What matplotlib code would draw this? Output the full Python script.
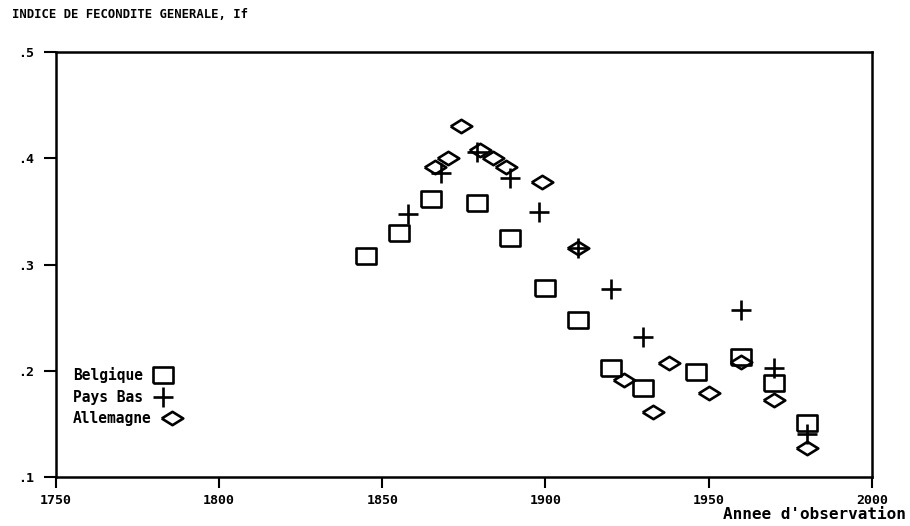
import matplotlib
matplotlib.use("Agg")
import matplotlib.pyplot as plt
import numpy as np

title = "INDICE DE FECONDITE GENERALE, If"
xlabel = "Annee d'observation"

bel_years = [1845, 1855, 1865, 1879, 1889, 1900, 1910, 1920, 1930, 1946, 1960, 1970, 1980]
bel_vals = [0.308, 0.330, 0.362, 0.358, 0.325, 0.278, 0.248, 0.203, 0.184, 0.199, 0.213, 0.188, 0.151]

nl_years = [1858, 1868, 1879, 1889, 1898, 1910, 1920, 1930, 1960, 1970, 1980]
nl_vals = [0.348, 0.386, 0.406, 0.381, 0.349, 0.316, 0.277, 0.232, 0.257, 0.203, 0.140]

de_years = [1866, 1870, 1874, 1880, 1884, 1888, 1899, 1910, 1924, 1933, 1938, 1950, 1960, 1970, 1980]
de_vals = [0.392, 0.400, 0.430, 0.408, 0.400, 0.392, 0.378, 0.316, 0.191, 0.161, 0.207, 0.179, 0.208, 0.172, 0.127]

xticks = [1750, 1800, 1850, 1900, 1950, 2000]
yticks = [0.1, 0.2, 0.3, 0.4, 0.5]
ytick_labels = [".1", ".2", ".3", ".4", ".5"]

rect = [(-1, -0.75), (1, -0.75), (1, 0.75), (-1, 0.75), (-1, -0.75)]
diamond = [(-1, 0), (0, 0.62), (1, 0), (0, -0.62), (-1, 0)]

fig = plt.figure(figsize=(9.1, 5.26), dpi=100)
ax = fig.add_axes([0.0615, 0.0932, 0.8965, 0.8078])

mono = "DejaVu Sans Mono"
tickfont = dict(family=mono, weight="bold", size=9.5)

ax.plot(bel_years, bel_vals, linestyle="none", marker=rect, markersize=14.5,
        markerfacecolor="none", markeredgecolor="black", markeredgewidth=1.9, label="Belgique")
ax.plot(nl_years, nl_vals, linestyle="none", marker="+", markersize=15,
        markeredgecolor="black", markeredgewidth=1.9, label="Pays Bas")
ax.plot(de_years, de_vals, linestyle="none", marker=diamond, markersize=15.5,
        markerfacecolor="none", markeredgecolor="black", markeredgewidth=1.9, label="Allemagne")

ax.set_xlim(1750, 2000)
ax.set_ylim(0.1, 0.5)
ax.set_xticks(xticks)
ax.set_xticklabels([str(t) for t in xticks], fontdict=tickfont)
ax.set_yticks(yticks)
ax.set_yticklabels(ytick_labels, fontdict=tickfont)
ax.tick_params(axis="y", direction="out", length=9, width=1.5, pad=7)
ax.tick_params(axis="x", direction="out", length=8, width=1.5, pad=4)
for s in ax.spines.values():
    s.set_linewidth(1.8)

fig.text(0.013, 0.972, title, ha="left", va="center", family=mono, weight="bold", size=8.8)
fig.text(0.995, 0.022, xlabel, ha="right", va="center", family=mono,
         weight="bold", size=11.5)

leg = ax.legend(loc="upper left", bbox_to_anchor=(0.021, 0.258), frameon=False,
                markerfirst=False, prop=dict(family=mono, weight="bold", size=10.5),
                handlelength=1.5, labelspacing=0.45, handletextpad=0.6, borderaxespad=0,
                borderpad=0)
try:
    for col in leg._legend_handle_box.get_children():
        col.align = "left"
except Exception:
    pass

fig.savefig("out.png", dpi=100)
